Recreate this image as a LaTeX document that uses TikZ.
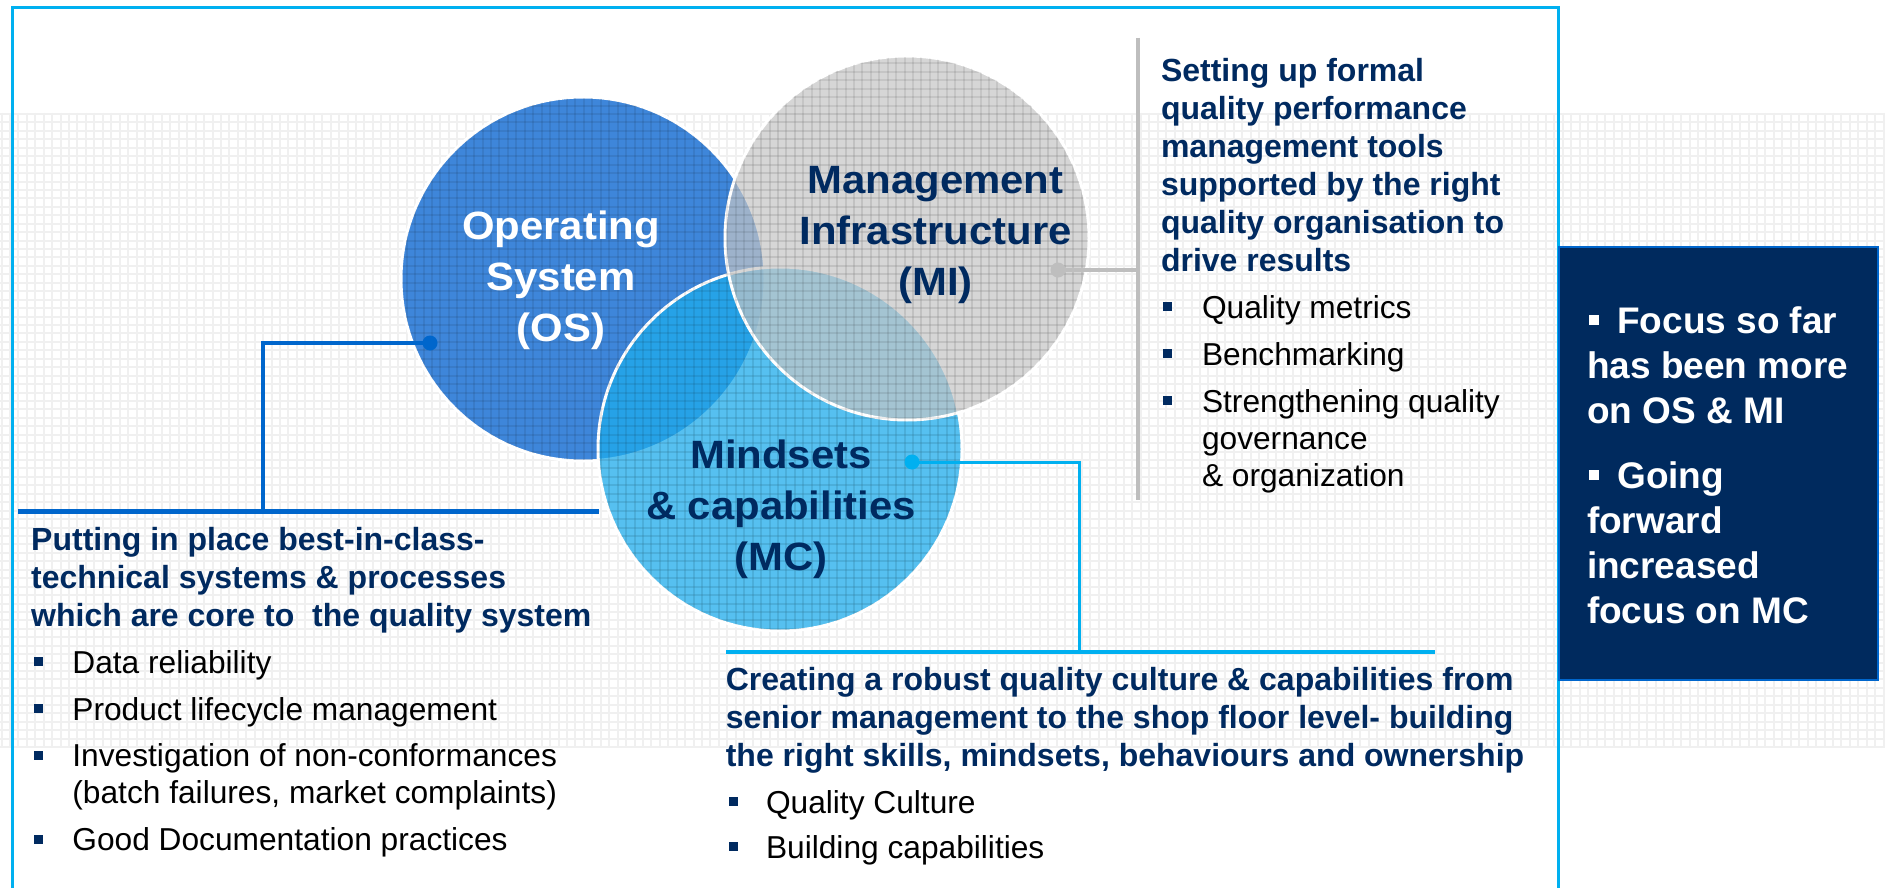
\documentclass[tikz,border=0pt]{standalone}
\usepackage{fontspec}
\setmainfont{Liberation Sans}
\newfontfamily\circfont[FakeStretch=1.06]{Liberation Sans}
\definecolor{navy}{RGB}{0,42,96}
\definecolor{osblue}{RGB}{62,134,218}
\definecolor{mcblue}{RGB}{30,172,236}
\definecolor{migray}{RGB}{198,198,198}
\definecolor{framecyan}{RGB}{0,176,240}
\definecolor{linkblue}{RGB}{0,102,204}
\definecolor{linkgray}{RGB}{190,190,190}
\definecolor{boxnavy}{RGB}{0,42,94}
\definecolor{gridgray}{RGB}{240,240,240}
\newcommand{\bul}[1]{\makebox[#1pt][l]{\textcolor{navy}{\rule[7pt]{9pt}{9pt}}}}
\newcommand{\wbul}{\makebox[30.3pt][l]{\hspace{2pt}\rule[8pt]{10pt}{10pt}}}
\begin{document}
\begin{tikzpicture}[x=1pt,y=-1pt,
  txt/.style={inner sep=0pt, outer sep=0pt},
  head/.style={txt, align=left, text=navy, font=\fontsize{32}{38}\selectfont\bfseries},
  item/.style={txt, align=left, text=black, font=\fontsize{31.7}{37}\selectfont},
  circtext/.style={txt, align=center, font=\circfont\bfseries\fontsize{39.5}{51}\selectfont},
  venn/.style={circle, inner sep=0pt, minimum size=364pt, draw=white, line width=3pt},
  dot/.style={circle, inner sep=0pt, minimum size=15pt},
  gridline/.style={draw=gridgray, line width=2pt},
  gridover/.style={draw=black, draw opacity=0.08, line width=2pt},
  oslink/.style={draw=linkblue, line width=3.5pt},
  osbar/.style={draw=linkblue, line width=4.7pt},
  mclink/.style={draw=framecyan, line width=3pt},
  mcbar/.style={draw=framecyan, line width=4.7pt},
  milink/.style={draw=linkgray, line width=4pt}
]
\useasboundingbox (0,0) rectangle (1885,888);
\fill[white] (0,0) rectangle (1885,888);
% background grid band
\foreach \i in {0,...,223} { \draw[gridline] ({1.5+8.44*\i},113) -- ({1.5+8.44*\i},747); }
\foreach \j in {0,...,75} { \draw[gridline] (0,{114+8.44*\j}) -- (1885,{114+8.44*\j}); }
% frame
\draw[framecyan, line width=3.3pt] (12.7,892) -- (12.7,7.3) -- (1558.5,7.3) -- (1558.5,892);
% venn circles
\node[venn, fill=osblue] (os) at (583,279) {};
\node[venn, fill=mcblue, fill opacity=0.75] (mc) at (780,449) {};
\node[venn, fill=migray, fill opacity=0.7] (mi) at (907,238) {};
\begin{scope}
\clip (os.center) circle[radius=181pt] (mi.center) circle[radius=181pt] (mc.center) circle[radius=181pt];
\foreach \i in {47,...,130} { \draw[gridover] ({1.5+8.44*\i},50) -- ({1.5+8.44*\i},640); }
\foreach \j in {-8,...,63} { \draw[gridover] (390,{114+8.44*\j}) -- (1100,{114+8.44*\j}); }
\end{scope}
% circle labels
\node[circtext, text=white, anchor=north] (ostext) at (561,211) {Operating\\System\\(OS)};
\node[circtext, text=navy, anchor=north] (mitext) at (935.5,166.7) {Management\\Infrastructure\\(MI)};
\node[circtext, text=navy, anchor=north] (mctext) at (781,440) {Mindsets\\\& capabilities\\(MC)};
% connectors
\node[dot, fill=linkblue] (osdot) at (430,343) {};
\coordinate (oscorner) at (263,511.7);
\coordinate (osbarL) at (18,511.7);
\coordinate (osbarR) at (599,511.7);
\draw[oslink] (osdot.center) -| (oscorner);
\draw[osbar] (osbarL) -- (osbarR);
\node[dot, fill=framecyan] (mcdot) at (912,462) {};
\coordinate (mccorner) at (1079,652);
\coordinate (mcbarL) at (726,652);
\coordinate (mcbarR) at (1435,652);
\draw[mclink] (mcdot.center) -| (mccorner);
\draw[mcbar] (mcbarL) -- (mcbarR);
\node[dot, fill=linkgray] (midot) at (1058,270) {};
\coordinate (mijoin) at (1138,270);
\coordinate (mitop) at (1138,38);
\coordinate (mibot) at (1138,500);
\draw[milink] (midot.center) -- (mijoin);
\draw[milink] (mitop) -- (mibot);
% MI text
\node[head, anchor=north west] (mihead) at (1161,58.4) {Setting up formal\\quality performance\\management tools\\supported by the right\\quality organisation to\\drive results};
\node[item, anchor=base west] (mi1) at (1163.3,318) {\bul{38.7}Quality metrics};
\node[item, anchor=base west] (mi2) at (1163.3,365) {\bul{38.7}Benchmarking};
\node[item, anchor=north west] (mi3) at (1163.3,389.3) {\bul{38.7}Strengthening quality\\\hspace*{38.7pt}governance\\\hspace*{38.7pt}\& organization};
% OS text
\node[head, anchor=north west] (oshead) at (31.2,527.4) {Putting in place best-in-class-\\technical systems \& processes\\which are core to\ \ the quality system};
\node[item, anchor=base west] (os1) at (34.4,673.3) {\bul{38}Data reliability};
\node[item, anchor=base west] (os2) at (34.4,720) {\bul{38}Product lifecycle management};
\node[item, anchor=north west] (os3) at (34.4,744) {\bul{38}Investigation of non-conformances\\\hspace*{38pt}(batch failures, market complaints)};
\node[item, anchor=base west] (os4) at (34.4,850.7) {\bul{38}Good Documentation practices};
% MC text
\node[head, anchor=north west] (mchead) at (725.8,667.4) {Creating a robust quality culture \& capabilities from\\senior management to the shop floor level- building\\the right skills, mindsets, behaviours and ownership};
\node[item, anchor=base west] (mc1) at (728.7,813.3) {\bul{37.3}Quality Culture};
\node[item, anchor=base west] (mc2) at (728.7,858.3) {\bul{37.3}Building capabilities};
% focus box
\node[draw=linkblue, line width=2pt, fill=boxnavy, minimum width=319pt, minimum height=433pt, anchor=north west, inner sep=0pt] (focusbox) at (1558,246) {};
\node[txt, anchor=north west, align=left, text=white, font=\fontsize{37}{45.3}\selectfont\bfseries] (focustext) at (1587,306.3) {\wbul Focus so far\\has been more\\on OS \& MI\\[19pt]\wbul Going\\forward\\increased\\focus on MC};
\end{tikzpicture}
\end{document}
